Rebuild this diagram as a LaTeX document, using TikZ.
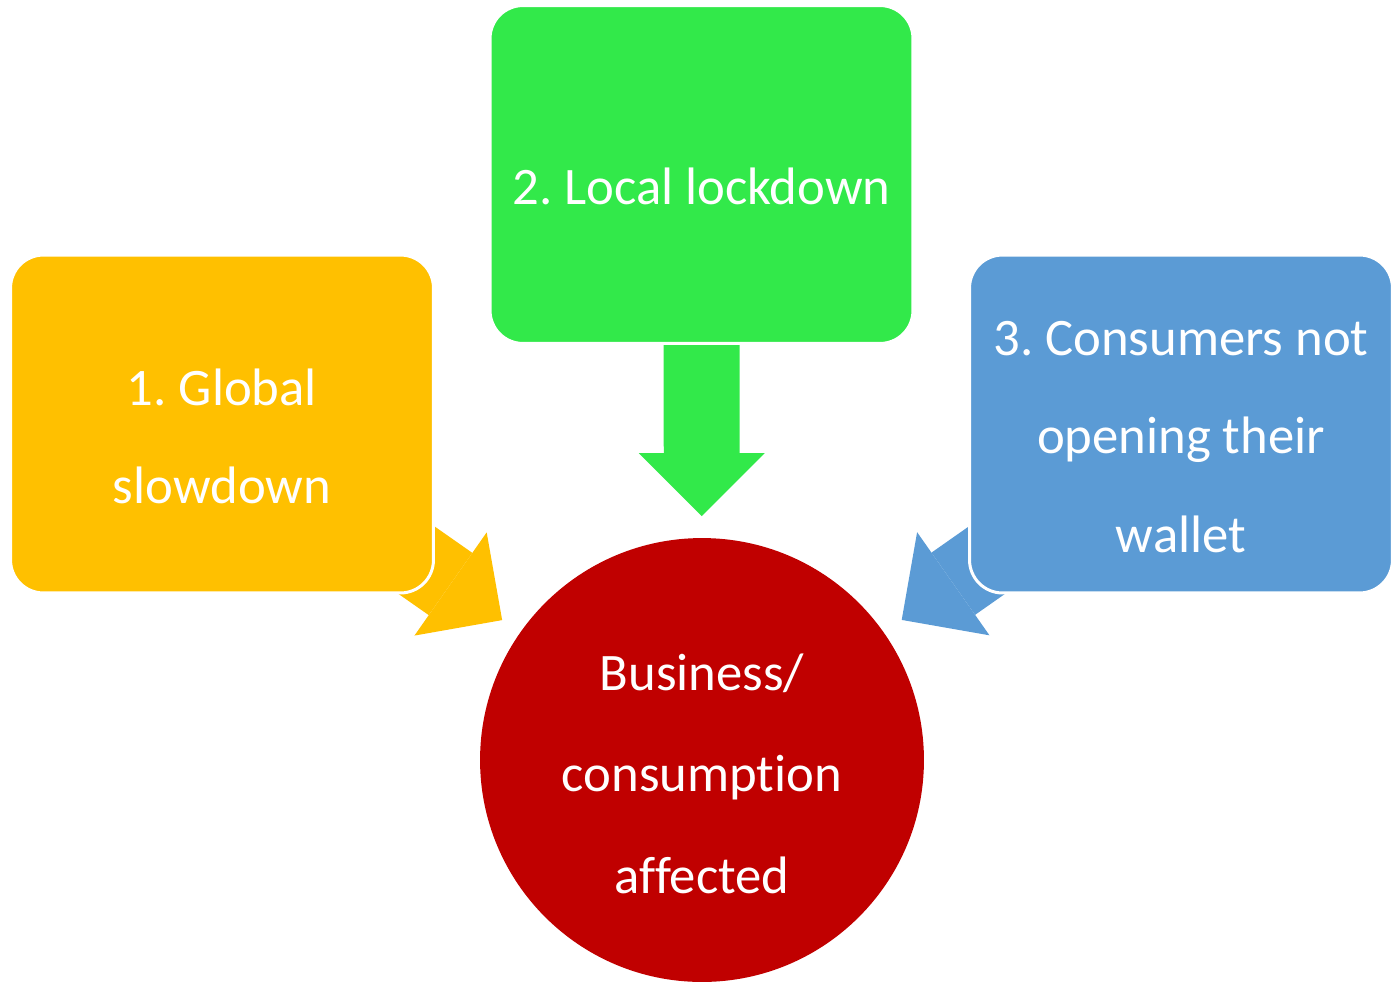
\documentclass[tikz,border=0pt]{standalone}
\usepackage{fontspec}
\setmainfont{Carlito}[Ligatures={NoCommon}]
\usetikzlibrary{arrows.meta,calc,backgrounds}
\definecolor{gold}{RGB}{255,192,0}
\definecolor{lime}{RGB}{50,233,74}
\definecolor{sky}{RGB}{91,155,213}
\definecolor{deepred}{RGB}{192,0,0}
\frenchspacing

\begin{document}
\begin{tikzpicture}[x=0.02cm,y=-0.02cm,
    box/.style={rectangle, rounded corners=0.66cm, draw=white, line width=0.06cm,
        minimum width=8.46cm, minimum height=6.76cm},
    lbl/.style={text=white, align=center, anchor=base, font=\fontsize{30}{56}\selectfont},
    bigarrow/.style={line width=1.52cm, -{Triangle[length=1.26cm, width=2.52cm, line width=0pt]}}]
    \useasboundingbox (0,0) rectangle (1393,981);

    % Causes
    \node[box, fill=gold] (glob) at (222,424) {};
    \node[box, fill=lime] (lock) at (701.5,174.5) {};
    \node[box, fill=sky] (cons) at (1181,424) {};

    % Effet
    \node[circle, fill=deepred, minimum size=8.88cm, inner sep=0pt] (biz) at (702,760) {};

    % Textes
    \node[lbl] (globtxt) at ($(glob)+(0,79.5)$) {1. Global\\slowdown};
    \node[lbl] (locktxt) at ($(lock)+(0,30)$) {2. Local lockdown};
    \node[lbl] (constxt) at ($(cons)+(0,128)$) {3. Consumers not\\opening their\\wallet};
    \node[lbl, font=\fontsize{30}{57.5}\selectfont] (biztxt) at ($(biz)+(0,133)$) {Business/\\consumption\\affected};

    % Pointes des fleches
    \coordinate (tipa) at ($(biz)!4.88cm!(glob)$);
    \coordinate (tipb) at ($(biz)!4.88cm!(lock)$);
    \coordinate (tipc) at ($(biz)!4.88cm!(cons)$);

    % Fleches (sous les boites)
    \begin{scope}[on background layer]
        \draw[bigarrow, gold] (glob.center) -- (tipa);
        \draw[bigarrow, lime] (lock.center) -- (tipb);
        \draw[bigarrow, sky] (cons.center) -- (tipc);
    \end{scope}
\end{tikzpicture}
\end{document}
